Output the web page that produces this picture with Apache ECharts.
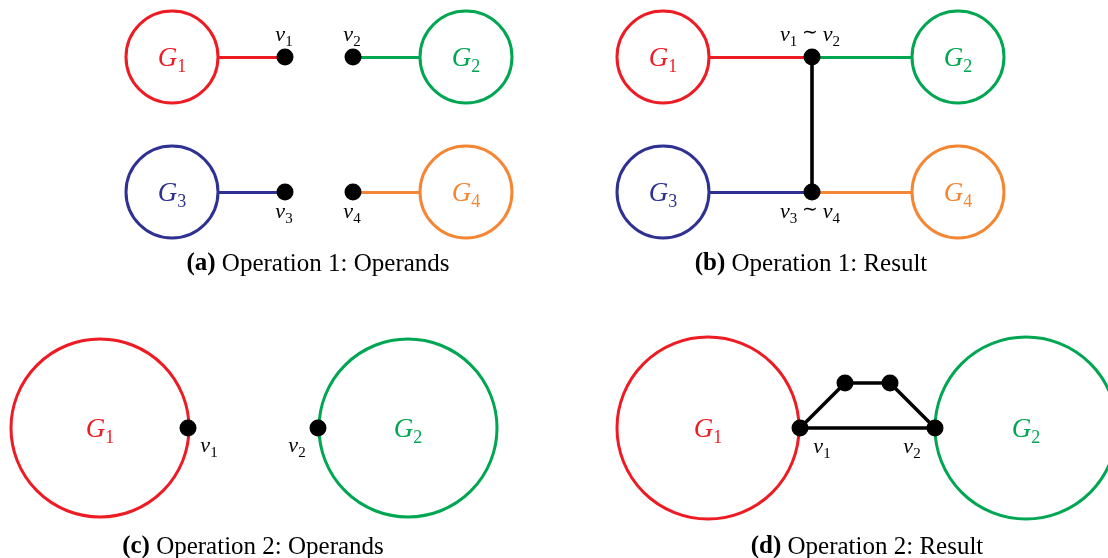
<!DOCTYPE html>
<html lang="en">
<head>
<meta charset="UTF-8"/>
<script src="https://cdn.jsdelivr.net/npm/echarts@6/dist/echarts.min.js"></script>
<title>Graph operations</title>
<style>html,body{margin:0;background:#fff;}</style>
</head>
<body>
<div id="main" style="width:1108px;height:558px;"></div>
<script type="text/javascript">
// subgraph circles G_i : subscript, centre, radius (axis units = px)
var gSub = ['1', '2', '3', '4', '1', '2', '3', '4', '1', '2', '1', '2'];
var gX = [172, 466, 172, 466, 663, 958, 663, 958, 100, 408, 708, 1026];
var gY = [57, 57, 192, 192, 57, 57, 192, 192, 428, 428, 428, 428];
var gR = [46, 46, 46, 46, 46, 46, 46, 46, 89, 89, 91, 91];

// vertices (black dots)
var vX = [285, 353, 285, 353, 812, 812, 188, 318, 800, 935, 845, 890];
var vY = [57, 57, 192, 192, 57, 192, 428, 428, 428, 428, 383, 383];

// vertex labels: subscripts joined by "~"
var lblSubs = [['1'], ['2'], ['3'], ['4'], ['1', '2'], ['3', '4'], ['1'], ['2'], ['1'], ['2']];
var lblX = [284, 352, 284, 352, 810, 810, 209, 297, 822, 912];
var lblY = [35, 35, 212, 212, 35, 212, 446, 446, 447, 447];

// coloured edges: circle index -> vertex index
var colEdges = [[0, 0], [1, 1], [2, 2], [3, 3], [4, 4], [5, 4], [6, 5], [7, 5]];
// black edges: vertex index -> vertex index
var blkEdges = [[4, 5], [8, 10], [10, 11], [11, 9], [8, 9]];

// captions
var capTag = ['a', 'b', 'c', 'd'];
var capText = ['Operation 1: Operands', 'Operation 1: Result', 'Operation 2: Operands', 'Operation 2: Result'];
var capX = [318, 811, 253, 867];
var capY = [264, 264, 547, 547];

var colorOf = {'1': '#ed1c24', '2': '#00a651', '3': '#2e3192', '4': '#f58634'};
var SERIF = 'Liberation Serif';

var myChart = echarts.init(document.getElementById('main'));

var edgeData = [];
colEdges.forEach(function (e) {
    edgeData.push({
        coords: [[gX[e[0]], gY[e[0]]], [vX[e[1]], vY[e[1]]]],
        lineStyle: {color: colorOf[gSub[e[0]]], width: 3, opacity: 1}
    });
});
blkEdges.forEach(function (e) {
    edgeData.push({
        coords: [[vX[e[0]], vY[e[0]]], [vX[e[1]], vY[e[1]]]],
        lineStyle: {color: '#000', width: 3.6, opacity: 1}
    });
});

// subscripts: the main glyph sits at the top of the line, the tall
// subscript token is centred, so it drops about 7px below
function vLabel(subs) {
    return subs.map(function (s) { return '{v|v}{s|' + s + '}'; }).join('{t| \u223c }');
}

var option = {
    animation: false,
    backgroundColor: '#fff',
    grid: {left: 0, right: 0, top: 0, bottom: 0},
    xAxis: {type: 'value', min: 0, max: 1108, show: false},
    yAxis: {type: 'value', min: 0, max: 558, inverse: true, show: false},
    series: [
        {
            type: 'lines',
            coordinateSystem: 'cartesian2d',
            z: 1,
            silent: true,
            lineStyle: {opacity: 1},
            data: edgeData
        },
        {
            type: 'custom',
            z: 2,
            silent: true,
            data: gX.map(function (x, i) { return [x, gY[i], gR[i]]; }),
            encode: {x: 0, y: 1},
            renderItem: function (params, api) {
                var c = api.coord([api.value(0), api.value(1)]);
                var r = api.size([api.value(2), 0])[0];
                var sub = gSub[params.dataIndex];
                var col = colorOf[sub];
                return {
                    type: 'group',
                    children: [
                        {type: 'circle', shape: {cx: c[0], cy: c[1], r: r},
                            style: {fill: '#fff', stroke: col, lineWidth: 3}},
                        {type: 'text', x: c[0], y: c[1] + 10,
                            style: {
                                text: '{g|G}{s|' + sub + '}',
                                align: 'center', verticalAlign: 'middle',
                                rich: {
                                    g: {fill: col, fontFamily: SERIF, fontStyle: 'italic', fontSize: 27, lineHeight: 30, verticalAlign: 'top'},
                                    s: {fill: col, fontFamily: SERIF, fontSize: 18, lineHeight: 44, verticalAlign: 'middle'}
                                }
                            }}
                    ]
                };
            }
        },
        {
            type: 'scatter',
            z: 3,
            silent: true,
            symbolSize: 17,
            itemStyle: {color: '#000', opacity: 1},
            data: vX.map(function (x, i) { return [x, vY[i]]; })
        },
        {
            // vertex labels
            type: 'custom',
            z: 4,
            silent: true,
            data: lblX.map(function (x, i) { return [x, lblY[i]]; }),
            encode: {x: 0, y: 1},
            renderItem: function (params, api) {
                var c = api.coord([api.value(0), api.value(1)]);
                return {
                    type: 'text', x: c[0], y: c[1] + 7,
                    style: {
                        text: vLabel(lblSubs[params.dataIndex]),
                        align: 'center', verticalAlign: 'middle',
                        rich: {
                            v: {fill: '#000', fontFamily: SERIF, fontStyle: 'italic', fontSize: 22, lineHeight: 22, verticalAlign: 'top'},
                            s: {fill: '#000', fontFamily: SERIF, fontSize: 15, lineHeight: 36, verticalAlign: 'middle'},
                            t: {fill: '#000', fontFamily: SERIF, fontSize: 19, lineHeight: 24, verticalAlign: 'top'}
                        }
                    }
                };
            }
        },
        {
            // captions
            type: 'custom',
            z: 4,
            silent: true,
            data: capX.map(function (x, i) { return [x, capY[i]]; }),
            encode: {x: 0, y: 1},
            renderItem: function (params, api) {
                var c = api.coord([api.value(0), api.value(1)]);
                var i = params.dataIndex;
                return {
                    type: 'text', x: c[0], y: c[1],
                    style: {
                        text: '{b|(' + capTag[i] + ')}{n| ' + capText[i] + '}',
                        align: 'center', verticalAlign: 'middle',
                        rich: {
                            b: {fill: '#000', fontFamily: SERIF, fontWeight: 'bold', fontSize: 25},
                            n: {fill: '#000', fontFamily: SERIF, fontSize: 25}
                        }
                    }
                };
            }
        }
    ]
};

myChart.setOption(option);
</script>
</body>
</html>
